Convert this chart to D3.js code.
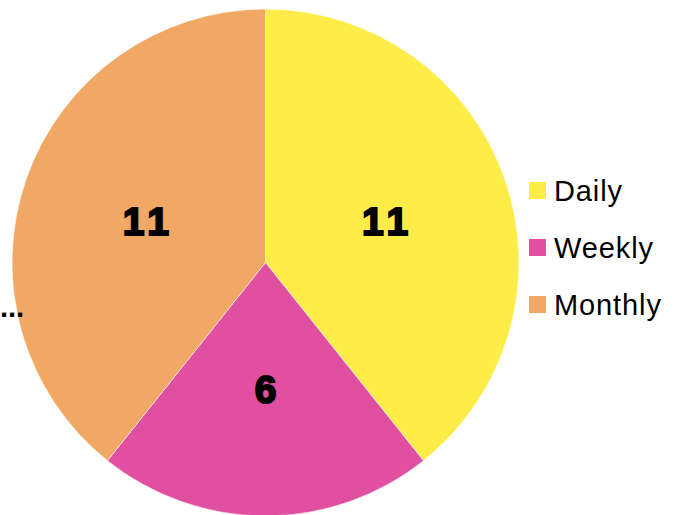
<!DOCTYPE html>
<html>
<head>
<meta charset="utf-8">
<script src="https://cdn.jsdelivr.net/npm/d3@7.9.0/dist/d3.min.js"></script>
<style>
  body { margin: 0; background: #fff; }
  svg { display: block; font-family: "Liberation Sans", Arial, sans-serif; }
</style>
</head>
<body>
<svg id="chart" width="682" height="515"></svg>
<script>
// chart data
const categories = ['Daily', 'Weekly', 'Monthly'];
const counts = [11, 6, 11];
const sliceColors = ['#FEEC48', '#E04FA0', '#F0A864'];

const svg = d3.select('#chart');
const cx = 265.5, cy = 262.5, radius = 253.5;

let data = categories.map((c, i) => ({ label: c, value: counts[i] }));

let pieGenerator = d3.pie().value(d => d.value).sort(null);
let arcGenerator = d3.arc().innerRadius(0).outerRadius(radius);
let labelArc = d3.arc().innerRadius(radius * 0.5).outerRadius(radius * 0.5);
let colors = d3.scaleOrdinal().domain(categories).range(sliceColors);

let arcData = pieGenerator(data);

let g = svg.append('g').attr('transform', `translate(${cx}, ${cy})`);

g.selectAll('path')
  .data(arcData)
  .join('path')
  .attr('d', arcGenerator)
  .attr('fill', d => colors(d.data.label))
  .attr('stroke', '#fff')
  .attr('stroke-width', 0.6);

// slice values, heavy black digits (dx undoes the trailing letter-spacing)
g.selectAll('text.value')
  .data(arcData)
  .join('text')
  .attr('class', 'value')
  .attr('transform', d => `translate(${labelArc.centroid(d)})`)
  .attr('text-anchor', 'middle')
  .attr('dx', 2.5)
  .attr('dy', '0.36em')
  .attr('font-size', 39)
  .attr('font-weight', 'bold')
  .attr('letter-spacing', 5)
  .attr('fill', '#000')
  .attr('stroke', '#000')
  .attr('stroke-width', 2)
  .attr('stroke-linejoin', 'miter')
  .text(d => d.data.value);

// truncated text at left edge
svg.append('text')
  .attr('x', 0)
  .attr('y', 317)
  .attr('font-size', 29)
  .attr('font-weight', 'bold')
  .attr('fill', '#000')
  .text('...');

// legend
let legend = svg.append('g').attr('transform', 'translate(529, 182)');
categories.forEach((c, i) => {
  let row = legend.append('g').attr('transform', `translate(0, ${i * 57})`);
  row.append('rect')
    .attr('width', 17)
    .attr('height', 17)
    .attr('fill', colors(c));
  row.append('text')
    .attr('x', 25)
    .attr('y', 8.5)
    .attr('dy', '0.36em')
    .attr('font-size', 29)
    .attr('letter-spacing', 0.9)
    .attr('fill', '#000')
    .text(c);
});
</script>
</body>
</html>
